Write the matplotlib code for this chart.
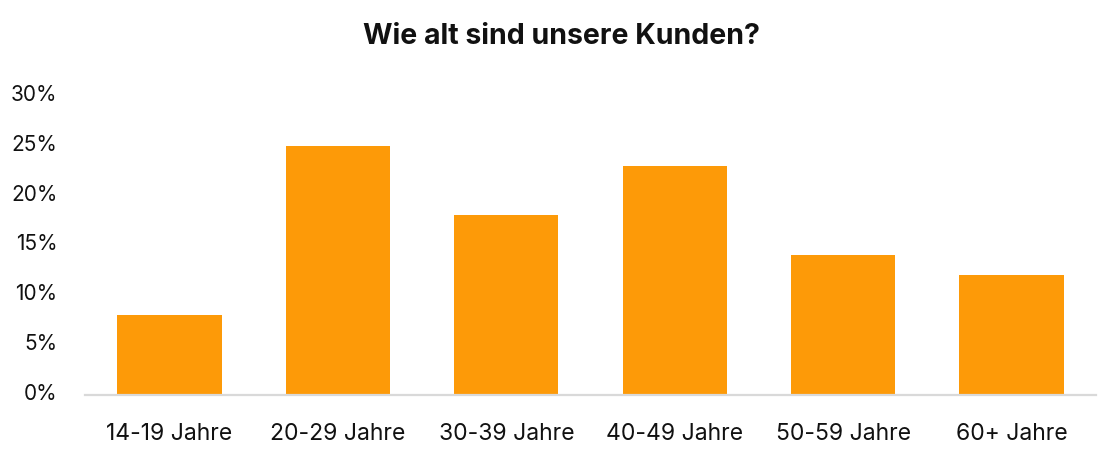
import matplotlib.pyplot as plt
import matplotlib.transforms as mtransforms
from matplotlib.ticker import FuncFormatter

# Altersgruppen und Anteile (in Prozent)
kategorien = ['14-19 Jahre', '20-29 Jahre', '30-39 Jahre', '40-49 Jahre', '50-59 Jahre', '60+ Jahre']
anteile = [8, 25, 18, 23, 14, 12]
y_ticks = [0, 5, 10, 15, 20, 25, 30]

plt.rcParams['font.family'] = ['Inter', 'DejaVu Sans']

fig = plt.figure(figsize=(11.19, 4.65), dpi=100)
ax = fig.add_axes([0.076, 0.1495, 0.9034, 0.6451])

ax.bar(range(len(kategorien)), anteile, width=0.62, color='#fd9a08')

ax.set_xlim(-0.5, len(kategorien) - 0.5)
ax.set_ylim(0, 30)
ax.set_yticks(y_ticks)
ax.yaxis.set_major_formatter(FuncFormatter(lambda v, p: '%d%%' % v))
ax.set_xticks(range(len(kategorien)))
ax.set_xticklabels(kategorien)

for s in ['top', 'right', 'left']:
    ax.spines[s].set_visible(False)
ax.spines['bottom'].set_color('#d9d9d9')
ax.spines['bottom'].set_linewidth(1.6)

ax.tick_params(axis='both', length=0, colors='#111111')
ax.tick_params(axis='y', pad=20, labelsize=15)
ax.tick_params(axis='x', pad=20, labelsize=16.5)

# y-Beschriftungen etwas nach oben schieben
versatz = mtransforms.ScaledTranslation(0, 3 / 100, fig.dpi_scale_trans)
for lab in ax.get_yticklabels():
    lab.set_transform(lab.get_transform() + versatz)

fig.text(0.5015, 0.922, 'Wie alt sind unsere Kunden?', ha='center', va='center',
         fontsize=20.5, fontweight='bold', color='#111111')

fig.savefig('out.png', dpi=100)
